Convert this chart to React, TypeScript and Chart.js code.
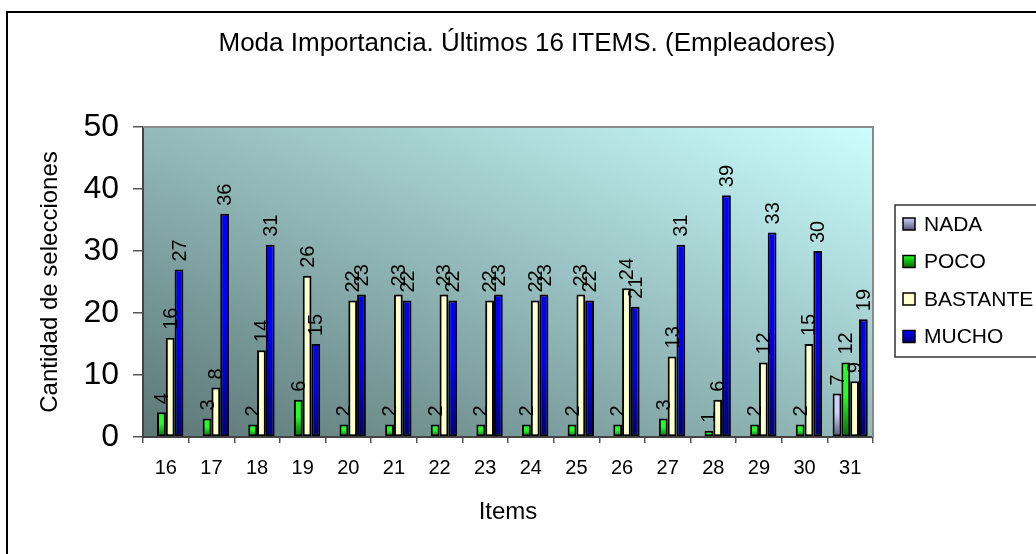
import React, { useEffect, useRef } from "react";
import { Chart, registerables } from "chart.js";

Chart.register(...registerables);

const TITLE = "Moda Importancia. Últimos 16 ITEMS. (Empleadores)";
const X_TITLE = "Items";
const Y_TITLE = "Cantidad de selecciones";

const categories = ["16", "17", "18", "19", "20", "21", "22", "23", "24", "25", "26", "27", "28", "29", "30", "31"];
const nada: (number | null)[] = [null, null, null, null, null, null, null, null, null, null, null, null, null, null, null, 7];
const poco = [4, 3, 2, 6, 2, 2, 2, 2, 2, 2, 2, 3, 1, 2, 2, 12];
const bastante = [16, 8, 14, 26, 22, 23, 23, 22, 22, 23, 24, 13, 6, 12, 15, 9];
const mucho = [27, 36, 31, 15, 23, 22, 22, 23, 23, 22, 21, 31, 39, 33, 30, 19];
const seriesNames = ["NADA", "POCO", "BASTANTE", "MUCHO"];

const FONT = "'Liberation Sans', Arial, sans-serif";

const palette = [
  { top: "#d0d0ff", bottom: "#55557a" },
  { top: "#22ff22", bottom: "#006a00" },
  { top: "#ffffcc", bottom: "#ffffcc" },
  { top: "#0000ff", bottom: "#000078" },
];

function barGradient(idx: number) {
  return (ctx: any) => {
    const chart = ctx.chart;
    const p = palette[idx];
    if (!chart.chartArea || ctx.type !== "data") return p.top;
    const v = ctx.parsed ? ctx.parsed.y : ctx.raw;
    if (v == null || isNaN(v)) return p.top;
    const y = chart.scales.y;
    const yTop = y.getPixelForValue(v);
    const yBot = y.getPixelForValue(0);
    if (Math.abs(yBot - yTop) < 1) return p.top;
    const g = chart.ctx.createLinearGradient(0, yTop, 0, yBot);
    g.addColorStop(0, p.top);
    g.addColorStop(0.45, p.top);
    g.addColorStop(1, p.bottom);
    return g;
  };
}

const decorPlugin = {
  id: "decor",
  beforeDraw(chart: any) {
    const { ctx, chartArea: a } = chart;
    ctx.save();
    const w = a.right - a.left;
    const h = a.bottom - a.top;
    const f = (2 * w * h) / (w * w + h * h);
    const g = ctx.createLinearGradient(a.left, a.bottom, a.left + h * f, a.bottom - w * f);
    g.addColorStop(0, "#5c7676");
    g.addColorStop(1, "#ccffff");
    ctx.fillStyle = g;
    ctx.fillRect(a.left, a.top, w, h);
    ctx.strokeStyle = "#000";
    ctx.lineWidth = 2;
    ctx.beginPath();
    ctx.moveTo(7, 600);
    ctx.lineTo(7, 12);
    ctx.lineTo(1100, 12);
    ctx.stroke();
    ctx.fillStyle = "#000";
    ctx.font = `26px ${FONT}`;
    ctx.textAlign = "center";
    ctx.textBaseline = "middle";
    ctx.fillText(TITLE, 527, 44);
    ctx.restore();
  },
  afterDatasetsDraw(chart: any) {
    const { ctx } = chart;
    ctx.save();
    ctx.font = `20px ${FONT}`;
    ctx.fillStyle = "#000";
    ctx.textAlign = "left";
    ctx.textBaseline = "middle";
    chart.data.datasets.forEach((ds: any, di: number) => {
      const meta = chart.getDatasetMeta(di);
      meta.data.forEach((el: any, i: number) => {
        const v = ds.data[i];
        if (v == null) return;
        ctx.save();
        ctx.translate(el.x, el.y - 8);
        ctx.rotate(-Math.PI / 2);
        ctx.fillText(String(v), 0, 1);
        ctx.restore();
      });
    });
    ctx.restore();
  },
  afterDraw(chart: any) {
    const { ctx, chartArea: a } = chart;
    ctx.save();
    ctx.strokeStyle = "#8a8a8a";
    ctx.lineWidth = 2;
    ctx.beginPath();
    ctx.moveTo(a.left, a.top);
    ctx.lineTo(a.right, a.top);
    ctx.lineTo(a.right, a.bottom);
    ctx.stroke();
    ctx.fillStyle = "#000";
    ctx.font = `24px ${FONT}`;
    ctx.textAlign = "center";
    ctx.textBaseline = "middle";
    ctx.fillText(X_TITLE, (a.left + a.right) / 2, 512);
    ctx.save();
    ctx.translate(50, (a.top + a.bottom) / 2);
    ctx.rotate(-Math.PI / 2);
    ctx.fillText(Y_TITLE, 0, 0);
    ctx.restore();
    ctx.strokeStyle = "#333";
    ctx.lineWidth = 1.5;
    ctx.strokeRect(895, 205, 200, 152);
    ctx.font = `21px ${FONT}`;
    ctx.textAlign = "left";
    chart.data.datasets.forEach((ds: any, i: number) => {
      const cy = 224 + i * 37.5;
      const p = palette[i];
      const g = ctx.createLinearGradient(0, cy - 6, 0, cy + 6);
      g.addColorStop(0, p.top);
      g.addColorStop(1, p.bottom);
      ctx.fillStyle = g;
      ctx.fillRect(903, cy - 6, 12, 12);
      ctx.strokeStyle = "#000";
      ctx.lineWidth = 1.5;
      ctx.strokeRect(903, cy - 6, 12, 12);
      ctx.fillStyle = "#000";
      ctx.fillText(ds.label, 924, cy + 1);
    });
    ctx.restore();
  },
};

export default function App() {
  const ref = useRef<HTMLCanvasElement | null>(null);
  useEffect(() => {
    if (!ref.current) return;
    const seriesData = [nada, poco, bastante, mucho];
    const chart = new Chart(ref.current, {
      type: "bar",
      data: {
        labels: categories,
        datasets: seriesData.map((d, i) => ({
          label: seriesNames[i],
          data: d,
          backgroundColor: barGradient(i),
          borderColor: "#000",
          borderWidth: 2,
          borderSkipped: false,
          categoryPercentage: 0.77,
          barPercentage: 1.0,
        })),
      },
      options: {
        responsive: false,
        animation: false,
        devicePixelRatio: 1,
        layout: { padding: { left: 60, right: 163, top: 127, bottom: 57 } },
        plugins: {
          legend: { display: false },
          title: { display: false },
          tooltip: { enabled: false },
        },
        scales: {
          x: {
            afterFit: (s: any) => { s.height = 60; },
            grid: { offset: true, drawOnChartArea: false, drawTicks: true, tickLength: 6, color: "#555", lineWidth: 1.5 },
            border: { display: true, color: "#444", width: 2 },
            ticks: { color: "#000", font: { family: FONT, size: 20 }, padding: 13, maxRotation: 0, autoSkip: false },
          },
          y: {
            min: 0,
            max: 50,
            afterFit: (s: any) => { s.width = 83; },
            ticks: { stepSize: 10, color: "#000", font: { family: FONT, size: 32 }, padding: 14 },
            grid: { drawOnChartArea: false, drawTicks: true, tickLength: 10, color: "#555", lineWidth: 1.5 },
            border: { display: true, color: "#444", width: 2 },
          },
        },
      },
      plugins: [decorPlugin],
    });
    return () => chart.destroy();
  }, []);
  return (
    <div style={{ position: "absolute", left: 0, top: 0, width: 1036, height: 554, background: "#fff" }}>
      <canvas ref={ref} width={1036} height={554} style={{ display: "block" }} />
    </div>
  );
}
